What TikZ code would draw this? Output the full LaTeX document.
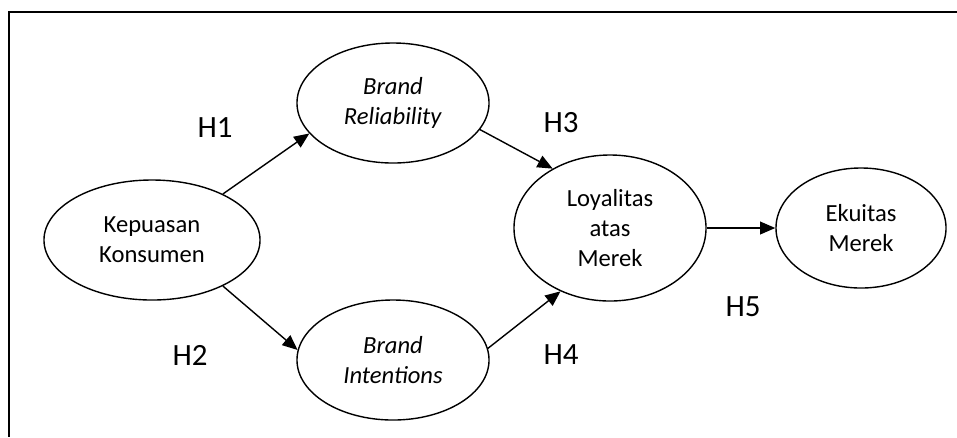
\documentclass[tikz,border=0pt]{standalone}
\usepackage{fontspec}
\setmainfont{Carlito}
\usepackage{tikz}
\usetikzlibrary{arrows.meta,shapes.geometric}

\tikzset{
  latent/.style={draw,ellipse,line width=1pt,inner sep=0pt,align=center,
    font=\fontsize{17.5}{21.5}\selectfont},
  hlabel/.style={font=\fontsize{22}{26}\selectfont},
  link/.style={line width=1pt,-{Triangle[length=0.38cm,width=0.32cm]}}
}

\begin{document}
\begin{tikzpicture}[x=0.025cm,y=-0.025cm]
\useasboundingbox (0,0) rectangle (957,437);
% Frame (top and left edges only)
\draw[line width=1.2pt] (957,12) -- (9,12) -- (9,437);

% Constructs
\node[latent,minimum width=5.4cm,minimum height=3cm] (kk) at (152,240) {Kepuasan\\Konsumen};
\node[latent,minimum width=4.8cm,minimum height=3cm] (br) at (393,103) {\textit{Brand}\\\textit{Reliability}};
\node[latent,minimum width=4.8cm,minimum height=3cm] (bi) at (393,360) {\textit{Brand}\\\textit{Intentions}};
\node[latent,minimum width=4.8cm,minimum height=3.65cm] (lam) at (610,228) {Loyalitas\\atas\\Merek};
\node[latent,minimum width=4.25cm,minimum height=3cm] (em) at (861,228) {Ekuitas\\Merek};

% Hypothesised paths
\draw[link] (kk.33) -- (br.200);
\draw[link] (kk.-33) -- (bi.174);
\draw[link] (br.-17) -- (lam.134);
\draw[link] (bi.7) -- (lam.232);
\draw[link] (lam.east) -- (em.west);

% Hypothesis labels
\foreach \n/\x/\y in {1/215/128, 2/190/355, 3/561/123, 4/561/355, 5/743/307}
    \node[hlabel] (h\n) at (\x,\y) {H\n};
\end{tikzpicture}
\end{document}
